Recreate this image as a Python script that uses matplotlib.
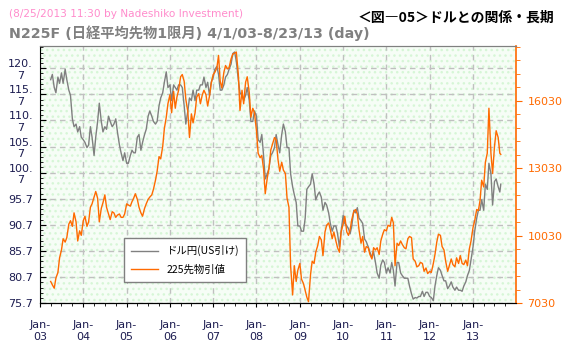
import matplotlib
matplotlib.use("Agg")
import matplotlib.pyplot as plt
import matplotlib.dates as mdates
from matplotlib.patches import Rectangle
from matplotlib.lines import Line2D
import numpy as np
import pandas as pd

plt.rcParams['font.family'] = ['DejaVu Sans', 'Noto Sans CJK JP']
plt.rcParams['hatch.linewidth'] = 1.0

# ドル円 (US引け), 半月ごと (1日, 15日)
usd_2003 = [118.5, 119.5, 117.0, 116.0, 119.0, 117.8, 119.8, 117.8, 120.5, 118.5,
            116.5, 115.5, 111.0, 109.5, 110.0, 108.5, 109.5, 107.5]
usd_2004 = [107.0, 106.5, 105.5, 106.0, 109.5, 107.5, 104.0, 107.5, 110.5, 114.0, 110.5, 108.5,
            109.5, 109.0, 111.5, 110.5, 109.5, 110.0, 111.0, 108.5, 106.0, 104.5, 103.0, 104.5]
usd_2005 = [102.5, 102.5, 104.0, 105.0, 104.5, 104.5, 107.5, 108.0, 105.0, 106.5, 108.0, 109.0,
            111.5, 112.5, 111.5, 110.5, 110.0, 110.5, 113.5, 115.0, 116.0, 118.0, 120.0, 117.0]
usd_2006 = [117.5, 114.5, 117.5, 117.0, 116.5, 117.5, 117.5, 117.0, 113.5, 110.0, 112.5, 115.0,
            114.5, 116.5, 114.5, 116.5, 116.5, 117.5, 117.5, 119.0, 117.0, 118.0, 115.5, 118.0]
usd_2007 = [119.0, 120.5, 121.0, 119.5, 116.5, 116.5, 117.5, 119.0, 119.5, 120.5, 121.5, 123.5,
            123.8, 122.0, 118.5, 116.0, 115.5, 114.5, 115.5, 117.0, 114.5, 110.5, 110.5, 112.5]
usd_2008 = [111.5, 107.0, 106.5, 108.0, 104.0, 99.5, 100.5, 101.5, 104.0, 104.5, 105.5, 108.0,
            106.0, 104.5, 108.0, 110.0, 108.5, 105.5, 105.5, 100.5, 98.0, 96.5, 95.0, 90.5]
usd_2009 = [90.5, 89.5, 89.5, 92.0, 97.5, 98.0, 98.5, 100.5, 98.5, 95.5, 96.5, 97.0,
            96.0, 93.5, 95.0, 94.5, 93.0, 91.0, 89.5, 90.5, 90.5, 89.0, 86.5, 89.5]
usd_2010 = [92.5, 91.0, 90.5, 90.0, 89.0, 90.5, 93.5, 93.0, 94.0, 92.0, 91.5, 91.0,
            88.0, 87.5, 86.5, 85.5, 84.5, 85.5, 83.5, 81.5, 80.5, 83.0, 84.0, 83.5]
usd_2011 = [81.5, 82.5, 81.5, 83.5, 82.0, 79.0, 83.5, 83.5, 81.5, 81.0, 80.5, 80.5,
            80.5, 79.0, 77.5, 76.5, 76.8, 76.7, 77.0, 77.0, 78.0, 77.0, 77.8, 77.8]
usd_2012 = [77.0, 76.8, 76.2, 79.0, 81.0, 82.5, 82.0, 81.0, 80.0, 80.0, 78.5, 79.0,
            79.8, 78.8, 78.2, 78.8, 78.2, 78.2, 78.0, 79.0, 79.8, 81.0, 82.0, 84.0]
usd_2013 = [86.5, 89.5, 92.0, 93.5, 93.5, 95.5, 93.5, 98.5, 97.5, 102.5, 100.5, 94.5,
            99.0, 99.5, 98.0, 97.0, 98.5]

# 225先物引値
n225_2003 = [8000, 7850, 7700, 8150, 8400, 9050, 9400, 9900, 9750, 9950,
             10550, 10700, 10450, 11050, 10650, 9800, 10250, 10050]
n225_2004 = [10700, 10900, 10450, 10650, 11300, 11450, 11750, 12000, 11700, 10650, 11250, 11500,
             11850, 11300, 11000, 10750, 11100, 11050, 10850, 10950, 11000, 10850, 10850, 11000]
n225_2005 = [11450, 11400, 11350, 11550, 11700, 11900, 11650, 11300, 11050, 10900, 11250, 11450,
             11650, 11750, 11850, 12100, 12500, 12900, 13550, 13450, 14000, 14800, 15300, 15900]
n225_2006 = [16300, 15500, 16450, 15700, 16200, 16500, 17100, 17200, 16900, 16100, 15550, 14400,
             15450, 15050, 15500, 16200, 16350, 15900, 16300, 16500, 16300, 15800, 16250, 16800]
n225_2007 = [17200, 17300, 17500, 18050, 16900, 16600, 17300, 17600, 17450, 17500, 17900, 18100,
             18150, 18200, 17200, 15600, 16500, 15900, 16850, 17100, 16400, 15300, 15700, 15500]
n225_2008 = [14700, 13700, 13500, 13600, 13000, 11900, 12600, 13000, 13850, 14100, 14400, 14300,
             13400, 12900, 13300, 12950, 12800, 11700, 11300, 8700, 7400, 8700, 8000, 8500]
n225_2009 = [8800, 8100, 7900, 7600, 7300, 7100, 8300, 8900, 8800, 9300, 9600, 10000,
             9850, 9150, 10200, 10500, 10600, 10300, 9900, 10200, 9800, 9500, 9300, 10200]
n225_2010 = [10550, 10900, 10200, 10050, 10300, 10750, 11100, 11200, 11000, 10300, 9700, 10000,
             9300, 9550, 9500, 9200, 9000, 9500, 9400, 9500, 9200, 9800, 10100, 10300]
n225_2011 = [10250, 10500, 10450, 10850, 10600, 8700, 9700, 9600, 9800, 9650, 9500, 9450,
             9900, 10000, 9950, 9000, 8900, 8650, 8700, 8850, 8800, 8450, 8600, 8350]
n225_2012 = [8450, 8400, 8800, 9200, 9750, 10100, 10050, 9550, 9400, 8900, 8450, 8700,
             9000, 8750, 8650, 9050, 8800, 9150, 8800, 8750, 8950, 8700, 9450, 9800]
n225_2013 = [10400, 10700, 11200, 11150, 11600, 12500, 12200, 13300, 13700, 15700, 13700, 12800,
             14000, 14700, 14400, 13700, 13650]

usd = usd_2003 + usd_2004 + usd_2005 + usd_2006 + usd_2007 + usd_2008 + \
    usd_2009 + usd_2010 + usd_2011 + usd_2012 + usd_2013
n225 = n225_2003 + n225_2004 + n225_2005 + n225_2006 + n225_2007 + n225_2008 + \
    n225_2009 + n225_2010 + n225_2011 + n225_2012 + n225_2013

dates = list(pd.date_range("2003-04-01", "2013-08-15", freq="SMS")) + [pd.Timestamp("2013-08-23")]
year_ticks = pd.date_range("2003-01-01", "2013-01-01", freq="YS")

left_ticks = [75.7, 80.7, 85.7, 90.7, 95.7, 100.7, 105.7, 110.7, 115.7, 120.7]
left_labels = ["75.7", "80.7", "85.7", "90.7", "95.7",
               "100.\n7", "105.\n7", "110.\n7", "115.\n7", "120.\n7"]
right_ticks = [7030, 10030, 13030, 16030]

navy = "#1c1c50"
orange = "#ff6a00"
gray = "#808080"

fig = plt.figure(figsize=(5.66, 3.49), dpi=100)
ax = fig.add_axes([0.0707, 0.131, 0.8415, 0.738])
ax.set_facecolor("#f6fdf6")
ax.add_patch(Rectangle((0, 0), 1, 1, transform=ax.transAxes, facecolor="none",
                       edgecolor="#d6f6d6", hatch="...", linewidth=0, zorder=0))

ax.plot(dates, usd, color=gray, lw=1.0, zorder=3)
ax.set_xlim(pd.Timestamp("2003-01-01"), pd.Timestamp("2014-01-01"))
ax.set_ylim(75.7, 125.0)

ax.set_yticks(left_ticks)
ax.set_yticklabels(left_labels)
ax.set_yticks(np.arange(75.7, 125.0, 1.0), minor=True)
for lbl in ax.get_yticklabels():
    lbl.set_multialignment("center")
ax.tick_params(axis="y", which="major", direction="in", length=4, colors="black",
               labelcolor=navy, labelsize=8, pad=5)
ax.tick_params(axis="y", which="minor", direction="in", length=2, color="black")

ax.set_xticks(year_ticks)
ax.xaxis.set_major_formatter(mdates.DateFormatter("%b-\n%y"))
ax.xaxis.set_minor_locator(mdates.MonthLocator(bymonth=[4, 7, 10]))
ax.tick_params(axis="x", which="major", direction="out", length=3, colors="black",
               labelcolor=navy, labelsize=8, pad=9)
ax.tick_params(axis="x", which="minor", direction="out", length=2, color="black")

ax.grid(True, which="major", color="#c0c0c0", linestyle=(0, (4, 3)), lw=1.0)
for gl in ax.get_xgridlines() + ax.get_ygridlines():
    gl.set_zorder(1)

ax.spines["left"].set_color("black")
ax.spines["bottom"].set_color("black")
ax.spines["top"].set_color(gray)
ax.spines["right"].set_visible(False)

ax2 = ax.twinx()
ax2.plot(dates, n225, color=orange, lw=1.0, zorder=4)
ax2.set_ylim(7030, 18480)
ax2.set_yticks(right_ticks)
ax2.set_yticks(np.arange(7030, 18480, 600), minor=True)
ax2.tick_params(axis="y", which="major", direction="out", length=4, colors=orange,
                labelsize=8, pad=4)
ax2.tick_params(axis="y", which="minor", direction="out", length=3, colors=orange)
ax2.spines["right"].set_color(orange)
ax2.spines["right"].set_linewidth(1.2)
ax2.spines["left"].set_visible(False)
ax2.spines["top"].set_color(gray)

handles = [Line2D([], [], color=gray, lw=1.0), Line2D([], [], color=orange, lw=1.0)]
leg = ax2.legend(handles, ["ドル円(US引け)", "225先物引値"], loc="lower left",
                 bbox_to_anchor=(0.176, 0.0815), borderaxespad=0, fancybox=False,
                 framealpha=1, edgecolor=gray, handlelength=2.6,
                 prop={"family": ["Noto Sans CJK JP"], "size": 7.5},
                 borderpad=0.7, labelspacing=0.8)
leg.get_frame().set_linewidth(1.0)

fig.text(0.016, 0.96, "(8/25/2013 11:30 by Nadeshiko Investment)", color="#ff8ccc",
         fontsize=7.6, va="center", ha="left")
fig.text(0.016, 0.905, "N225F (日経平均先物1限月) 4/1/03-8/23/13 (day)", color="#808080",
         fontsize=10.3, fontweight="bold", va="center", ha="left")
fig.text(0.98, 0.95, "＜図―05＞ドルとの関係・長期", color="black", fontsize=10,
         fontweight="bold", va="center", ha="right", family=["Noto Sans CJK JP"])

fig.savefig("out.png", dpi=100)
